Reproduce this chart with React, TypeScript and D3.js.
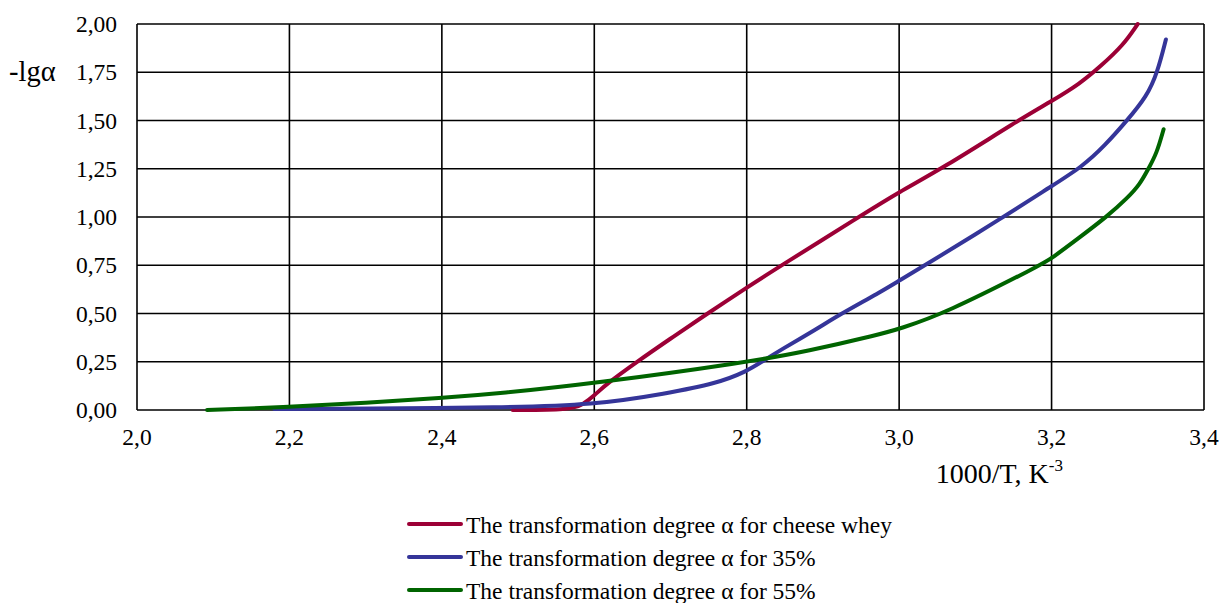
import React from "react";
import * as d3 from "d3";

// Tick values
const xTicks = [2.0, 2.2, 2.4, 2.6, 2.8, 3.0, 3.2, 3.4];
const yTicks = [0, 0.25, 0.5, 0.75, 1.0, 1.25, 1.5, 1.75, 2.0];

// Series: cheese whey
const wheyX = [2.493, 2.568, 2.586, 2.6, 2.616, 2.656, 2.7, 2.743, 2.8, 2.846, 2.947, 3.0, 3.056, 3.156, 3.2, 3.237, 3.264, 3.294, 3.313];
const wheyY = [0, 0, 0.03, 0.075, 0.135, 0.25, 0.37, 0.485, 0.635, 0.75, 1.0, 1.13, 1.25, 1.5, 1.6, 1.69, 1.78, 1.89, 2.0];

// Series: 35%
const s35X = [2.18, 2.3, 2.476, 2.6, 2.695, 2.761, 2.8, 2.822, 2.844, 2.892, 2.92, 2.975, 3.0, 3.034, 3.137, 3.2, 3.24, 3.27, 3.299, 3.325, 3.339, 3.35];
const s35Y = [0.005, 0.008, 0.012, 0.026, 0.086, 0.138, 0.2, 0.255, 0.31, 0.42, 0.49, 0.61, 0.67, 0.75, 1.0, 1.16, 1.26, 1.37, 1.5, 1.625, 1.75, 1.92];

// Series: 55%
const s55X = [2.092, 2.2, 2.3, 2.4, 2.476, 2.6, 2.8, 2.88, 2.975, 3.0, 3.06, 3.185, 3.2, 3.237, 3.272, 3.3, 3.316, 3.327, 3.338, 3.347];
const s55Y = [0, 0.015, 0.038, 0.062, 0.086, 0.138, 0.247, 0.305, 0.392, 0.42, 0.5, 0.75, 0.785, 0.895, 1.0, 1.1, 1.17, 1.25, 1.33, 1.455];

const seriesNames = [
  "The transformation degree α for cheese whey",
  "The transformation degree α for 35%",
  "The transformation degree α for 55%",
];
const seriesColors = ["#9c0036", "#353599", "#006400"];

const W = 1223;
const H = 603;
const left = 137;
const right = 1204;
const top = 24;
const bottom = 410;

const FONT = "Liberation Serif";
const txt = { fontFamily: FONT, fill: "#000" };

export default function App() {
  const x = d3.scaleLinear().domain([2.0, 3.4]).range([left, right]);
  const y = d3.scaleLinear().domain([0, 2.0]).range([bottom, top]);
  const line = d3
    .line<[number, number]>()
    .x((d) => x(d[0]))
    .y((d) => y(d[1]))
    .curve(d3.curveBasis);

  const series = [
    d3.zip(wheyX, wheyY) as [number, number][],
    d3.zip(s35X, s35Y) as [number, number][],
    d3.zip(s55X, s55Y) as [number, number][],
  ];

  const fmtY = (v: number) => v.toFixed(2).replace(".", ",");
  const fmtX = (v: number) => v.toFixed(1).replace(".", ",");

  return (
    <svg
      width={W}
      height={H}
      style={{ position: "absolute", left: 0, top: 0, background: "#fff", fontFamily: FONT }}
    >
      <rect x={0} y={0} width={W} height={H} fill="#fff" />
      {/* grid */}
      {yTicks.map((t) => (
        <line key={"gy" + t} x1={left} x2={right} y1={y(t)} y2={y(t)} stroke="#000" strokeWidth={1.6} />
      ))}
      {xTicks.map((t) => (
        <line key={"gx" + t} x1={x(t)} x2={x(t)} y1={top} y2={bottom} stroke="#000" strokeWidth={1.6} />
      ))}
      {/* y tick labels */}
      {yTicks.map((t) => (
        <text key={"ty" + t} x={117} y={y(t)} dy="0.35em" textAnchor="end" fontSize={23.5} style={txt}>
          {fmtY(t)}
        </text>
      ))}
      {/* x tick labels */}
      {xTicks.map((t) => (
        <text key={"tx" + t} x={x(t)} y={445} textAnchor="middle" fontSize={23.5} style={txt}>
          {fmtX(t)}
        </text>
      ))}
      {/* axis titles */}
      <text x={9} y={81} fontSize={28.5} style={txt}>-lgα</text>
      <text x={1063} y={483} textAnchor="end" fontSize={28} style={txt}>
        1000/T, K<tspan fontSize={17} dy={-12}>-3</tspan>
      </text>
      {/* series */}
      {series.map((s, i) => (
        <path
          key={"s" + i}
          d={line(s) || ""}
          fill="none"
          stroke={seriesColors[i]}
          strokeWidth={4}
          strokeLinecap="round"
          strokeLinejoin="round"
        />
      ))}
      {/* legend */}
      {seriesNames.map((n, i) => (
        <g key={"lg" + i} transform={`translate(0, ${524 + i * 33})`}>
          <line x1={409} x2={461} y1={0} y2={0} stroke={seriesColors[i]} strokeWidth={4} strokeLinecap="round" />
          <text x={466} y={9} fontSize={23.5} style={txt}>{n}</text>
        </g>
      ))}
    </svg>
  );
}
